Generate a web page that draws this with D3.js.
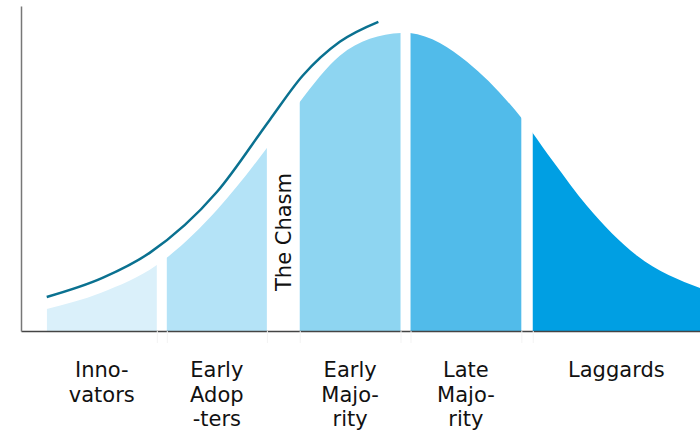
<!DOCTYPE html>
<html>
<head>
<meta charset="utf-8">
<script src="https://cdn.jsdelivr.net/npm/d3@7"></script>
<style>
  html, body { margin: 0; padding: 0; background: #fff; }
  svg { display: block; font-family: "DejaVu Sans", Verdana, sans-serif; }
</style>
</head>
<body>
<svg width="700" height="432"></svg>
<script>
// Curva de adoção (x em desvios-padrão, y = densidade relativa)
const bellX = [-2.51, -2.13, -1.74, -1.32, -0.97, -0.74, -0.46, -0.25, 0, 0.24, 0.43, 0.81, 1.03, 1.27, 1.62, 2.06];
const bellY = [0.074, 0.128, 0.221, 0.406, 0.614, 0.768, 0.923, 0.980, 1.0, 0.966, 0.903, 0.715, 0.570, 0.419, 0.252, 0.144];

// Linha de tendência acima da curva
const leadX = [-2.51, -2.12, -1.79, -1.32, -0.95, -0.72, -0.46, -0.19];
const leadY = [0.114, 0.178, 0.262, 0.466, 0.708, 0.856, 0.970, 1.037];

// Segmentos
const segNames = [["Inno-", "vators"], ["Early", "Adop", "-ters"], ["Early", "Majo-", "rity"], ["Late", "Majo-", "rity"], ["Laggards"]];
const segStart = [-2.51, -1.67, -0.74, 0.035, 0.89];
const segEnd = [-1.74, -0.97, -0.035, 0.81, 2.06];
const segColors = ["#daf0fa", "#b4e3f7", "#8ed5f1", "#51bbea", "#009fe3"];

const svg = d3.select("svg");

const x = d3.scaleLinear().domain([-2.69, 2.06]).range([21, 700]);
const y = d3.scaleLinear().domain([0, 1.09]).range([331, 6]);

const bell = bellX.map((v, i) => ({ x: v, y: bellY[i] }));
const lead = leadX.map((v, i) => ({ x: v, y: leadY[i] }));

const area = d3.area()
    .x(d => x(d.x))
    .y0(y(0))
    .y1(d => y(d.y))
    .curve(d3.curveMonotoneX);

// Um recorte por segmento
const defs = svg.append("defs");
segStart.forEach((s, i) => {
    defs.append("clipPath").attr("id", "seg" + i)
        .append("rect")
        .attr("x", x(s))
        .attr("y", 0)
        .attr("width", x(segEnd[i]) - x(s))
        .attr("height", y(0));
});

svg.selectAll(".seg")
    .data(segColors)
    .enter().append("path")
    .attr("class", "seg")
    .attr("d", area(bell))
    .attr("fill", d => d)
    .attr("clip-path", (d, i) => "url(#seg" + i + ")");

// Linha teal
svg.append("path")
    .attr("d", d3.line().x(d => x(d.x)).y(d => y(d.y)).curve(d3.curveMonotoneX)(lead))
    .attr("fill", "none")
    .attr("stroke", "#0a7190")
    .attr("stroke-width", 2.5);

// Eixos
const gapTicks = [];
for (let i = 0; i < segStart.length - 1; i++) {
    gapTicks.push(segEnd[i], segStart[i + 1]);
}

const xAxis = svg.append("g")
    .attr("transform", `translate(0,${y(0)})`)
    .call(d3.axisBottom(x).tickValues(gapTicks).tickSize(12).tickSizeOuter(0).tickFormat(""));
xAxis.selectAll(".tick line").attr("stroke", "#f3f3f3");
xAxis.select(".domain").attr("stroke", "#444").attr("stroke-width", 1.5);

const yAxis = svg.append("g")
    .attr("transform", `translate(${x.range()[0]},0)`)
    .call(d3.axisLeft(y).tickValues([]).tickSizeOuter(0));
yAxis.select(".domain").attr("stroke", "#777").attr("stroke-width", 1.5);

// Rótulos
const labels = svg.selectAll(".label")
    .data(segNames)
    .enter().append("text")
    .attr("class", "label")
    .attr("text-anchor", "middle")
    .attr("font-size", 21)
    .attr("fill", "#111");

labels.each(function(lines, i) {
    const cx = (x(segStart[i]) + x(segEnd[i])) / 2;
    d3.select(this).selectAll("tspan")
        .data(lines)
        .enter().append("tspan")
        .attr("x", cx)
        .attr("y", (d, j) => 377 + j * 24.7)
        .text(d => d);
});

// The Chasm
const chasmX = (x(segEnd[1]) + x(segStart[2])) / 2 + 8;
svg.append("text")
    .attr("transform", `translate(${chasmX},232) rotate(-90)`)
    .attr("text-anchor", "middle")
    .attr("font-size", 21)
    .attr("fill", "#111")
    .text("The Chasm");
</script>
</body>
</html>
